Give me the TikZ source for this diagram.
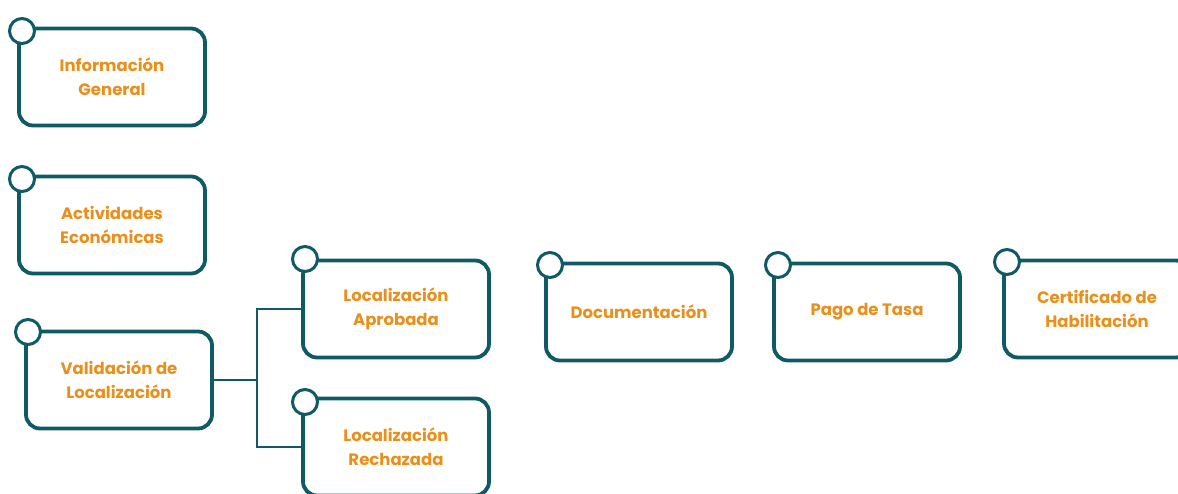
\documentclass[tikz,border=0pt]{standalone}
\usepackage{fontspec}
\setmainfont{Poppins}
\definecolor{teal1}{HTML}{0F5A64}
\definecolor{orange1}{HTML}{E8901C}
\tikzset{
  stepbox/.style={draw=teal1, line width=3.8pt, rounded corners=14pt, fill=white,
    minimum width=186pt, minimum height=97pt, inner sep=0pt, align=center,
    text=orange1, font=\fontsize{16.5}{24}\selectfont\bfseries},
  knob/.style={circle, draw=teal1, line width=3pt, fill=white, minimum size=25pt, inner sep=0pt},
  link/.style={draw=teal1, line width=1.2pt}
}
\begin{document}
\begin{tikzpicture}[x=1pt,y=-1pt]
\useasboundingbox[fill=white] (0,0) rectangle (1178,493);
\node[stepbox] (info) at (112,77) {Información\\General};
\node[knob] (kinfo) at (22,31) {};
\node[stepbox] (act) at (112,225) {Actividades\\Económicas};
\node[knob] (kact) at (22,179) {};
\node[stepbox] (val) at (119,380) {Validación de\\Localización};
\node[knob] (kval) at (28,332) {};
\node[stepbox] (apr) at (396,309) {Localización\\Aprobada};
\node[knob] (kapr) at (305,259) {};
\node[stepbox] (rec) at (396,447) {Localización\\Rechazada};
\node[knob] (krec) at (305,402) {};
\node[stepbox] (doc) at (639,312) {Documentación};
\node[knob] (kdoc) at (550,265) {};
\node[stepbox] (pago) at (867,312) {Pago de Tasa};
\node[knob] (kpago) at (778,265) {};
\node[stepbox] (cert) at (1097,309) {Certificado de\\Habilitación};
\node[knob] (kcert) at (1007,262) {};
\coordinate (j) at (257,380);
\draw[link] (val.east) -- (j);
\draw[link] (j) |- (apr.west);
\draw[link] (j) |- (rec.west);
\end{tikzpicture}
\end{document}
